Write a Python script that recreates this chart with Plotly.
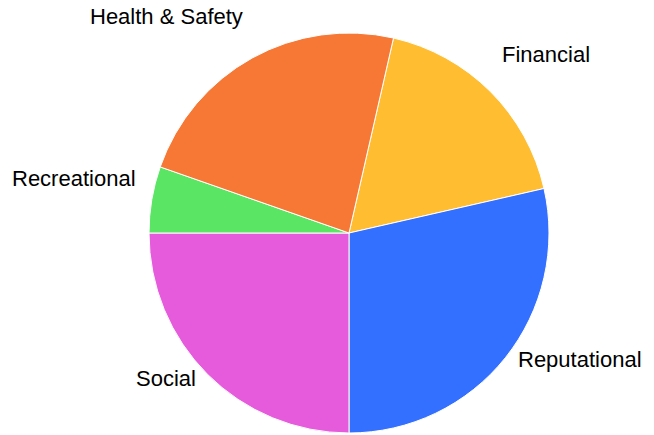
import math
import plotly.graph_objects as go

# Risk categories and their weights
categories = ["Financial", "Reputational", "Social", "Recreational", "Health & Safety"]
values = [2500, 4000, 3500, 750, 3250]
colors = ["#FFBE32", "#3370FF", "#E65ADC", "#5AE664", "#F77835"]

W, H = 654, 435
margin = dict(l=44, r=0, t=33, b=2)
rotation = 12.86  # degrees clockwise from 12 o'clock where the first slice starts

fig = go.Figure(
    go.Pie(
        labels=categories,
        values=values,
        sort=False,
        direction="clockwise",
        rotation=rotation,
        marker=dict(colors=colors, line=dict(color="white", width=1)),
        textinfo="none",
        showlegend=False,
        hoverinfo="label+value+percent",
    )
)

# Pie geometry in pixels (radius = half the shorter side of the plot area)
pw = W - margin["l"] - margin["r"]
ph = H - margin["t"] - margin["b"]
radius = min(pw, ph) / 2
cx = margin["l"] + pw / 2
cy = margin["t"] + ph / 2


def to_paper(px, py):
    return (px - margin["l"]) / pw, 1 - (py - margin["t"]) / ph


# Category labels placed just outside each slice's mid-angle
total = sum(values)
start = rotation
for name, v in zip(categories, values):
    sweep = 360 * v / total
    mid = math.radians(start + sweep / 2)
    start += sweep
    s, c = math.sin(mid), math.cos(mid)
    lx = cx + 1.07 * radius * s
    ly = cy - 1.07 * radius * c - (16.5 + 15 * c)
    xp, yp = to_paper(lx, ly)
    fig.add_annotation(
        x=xp, y=yp, xref="paper", yref="paper",
        text=name, showarrow=False,
        xanchor="left" if s > 0 else "right", yanchor="middle",
        font=dict(family="Arial", size=22, color="black"),
    )

fig.update_layout(
    width=W,
    height=H,
    margin=margin,
    paper_bgcolor="white",
    plot_bgcolor="white",
)

fig.write_html("out.html")
